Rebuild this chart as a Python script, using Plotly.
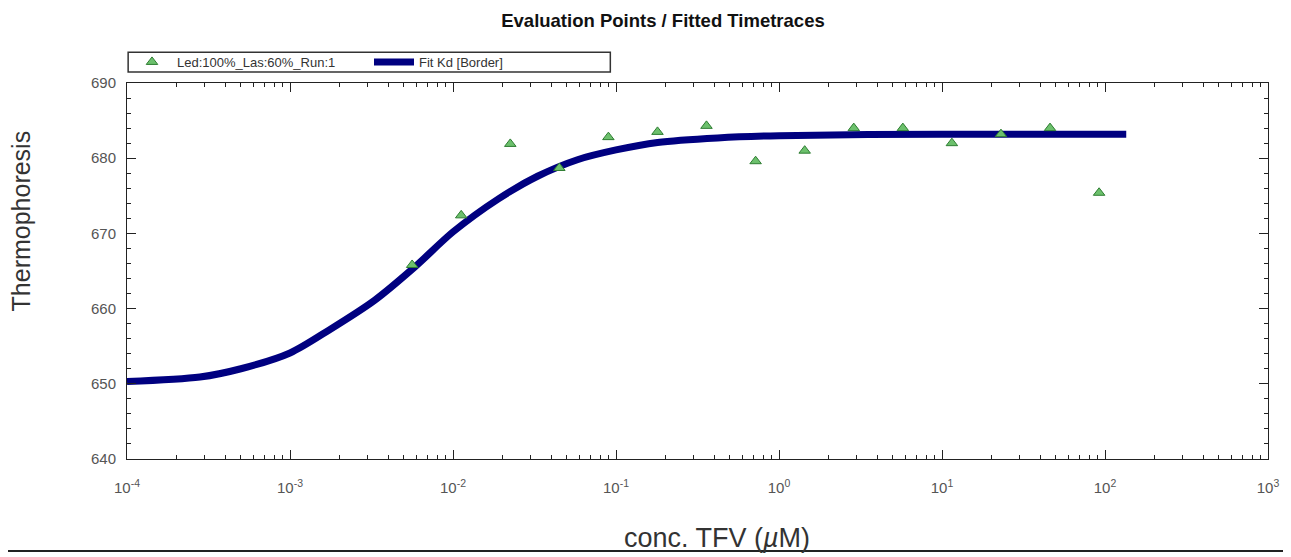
import plotly.graph_objects as go

# Evaluation points (2-fold dilution series, µM) and thermophoresis readings
conc = [0.005615, 0.01123, 0.02246, 0.0449, 0.0898, 0.1797, 0.359, 0.71875,
        1.4375, 2.875, 5.75, 11.5, 23.0, 46.0, 92.0]
thermo = [665.8, 672.4, 681.9, 678.7, 682.8, 683.5, 684.3, 679.6,
          681.0, 684.0, 684.0, 682.0, 683.2, 684.0, 675.4]

# Fitted Kd curve
fit_x = [0.0001, 0.00028, 0.0005, 0.001, 0.00175, 0.0033, 0.0058, 0.01,
         0.019, 0.033, 0.058, 0.1, 0.18, 0.42, 1.0, 10.0, 135.0]
fit_y = [650.3, 650.9, 652.0, 654.1, 657.2, 661.1, 665.5, 670.2,
         674.6, 677.6, 679.8, 681.1, 682.1, 682.7, 683.0, 683.2, 683.2]

x_tickvals = [1e-4, 1e-3, 1e-2, 1e-1, 1e0, 1e1, 1e2, 1e3]
x_ticktext = ["10<sup>-4</sup>", "10<sup>-3</sup>", "10<sup>-2</sup>", "10<sup>-1</sup>",
              "10<sup>0</sup>", "10<sup>1</sup>", "10<sup>2</sup>", "10<sup>3</sup>"]
y_tickvals = [640, 650, 660, 670, 680, 690]

FONT = "Liberation Sans, Arial"

fig = go.Figure()
fig.add_trace(go.Scatter(
    x=fit_x, y=fit_y, mode="lines", name="Fit Kd [Border]", legendrank=2,
    line=dict(color="#000080", width=7, shape="spline", smoothing=0.8),
))
fig.add_trace(go.Scatter(
    x=conc, y=thermo, mode="markers", name="Led:100%_Las:60%_Run:1", legendrank=1,
    marker=dict(symbol="triangle-up", size=10, color="#6cc06c",
                line=dict(color="#2e7d32", width=1)),
))

axis_common = dict(showline=True, linecolor="#222", linewidth=1, mirror="allticks",
                   showgrid=False, zeroline=False, ticks="inside", ticklen=9,
                   tickcolor="#222",
                   tickfont=dict(family=FONT, size=15, color="#555"))

fig.update_xaxes(type="log", range=[-4, 3], tickvals=x_tickvals, ticktext=x_ticktext,
                 ticklabelstandoff=15,
                 minor=dict(ticks="inside", ticklen=4, tickcolor="#222", dtick="D1",
                            showgrid=False),
                 **axis_common)
fig.update_yaxes(range=[640, 690], tickvals=y_tickvals, ticklabelstandoff=7,
                 minor=dict(ticks="inside", ticklen=4, tickcolor="#222", dtick=2,
                            showgrid=False),
                 **axis_common)

# axis titles
fig.add_annotation(text="conc. TFV (<i>µ</i>M)", xref="paper", yref="paper",
                   x=0.5175, y=-0.21, xanchor="center", yanchor="middle", showarrow=False,
                   font=dict(family=FONT, size=27, color="#333"))
fig.add_annotation(text="Thermophoresis", xref="paper", yref="paper", textangle=-90,
                   x=-0.0925, y=0.633, xanchor="center", yanchor="middle", showarrow=False,
                   font=dict(family=FONT, size=25, color="#333"))

# legend frame and bottom rule
fig.add_shape(type="rect", xref="paper", yref="paper", x0=0.001, x1=0.4236,
              y0=1.029, y1=1.082, line=dict(color="#333", width=1.5),
              fillcolor="rgba(0,0,0,0)")
fig.add_shape(type="line", xref="paper", yref="paper", x0=-0.111, x1=1.02,
              y0=-0.245, y1=-0.245, line=dict(color="#222", width=2))

fig.update_layout(
    width=1283, height=549,
    margin=dict(l=119, r=19, t=75, b=98),
    paper_bgcolor="white", plot_bgcolor="white",
    title=dict(text="<b>Evaluation Points / Fitted Timetraces</b>", x=0.5105,
               xanchor="center", y=0.978, yanchor="middle",
               font=dict(family=FONT, size=18.5, color="#111")),
    legend=dict(orientation="h", x=0.0, y=1.0559, xanchor="left", yanchor="middle",
                borderwidth=0, bgcolor="rgba(0,0,0,0)", traceorder="normal",
                font=dict(family=FONT, size=13, color="#333"),
                itemwidth=40, entrywidth=187),
    showlegend=True,
)

fig.write_html("out.html")
